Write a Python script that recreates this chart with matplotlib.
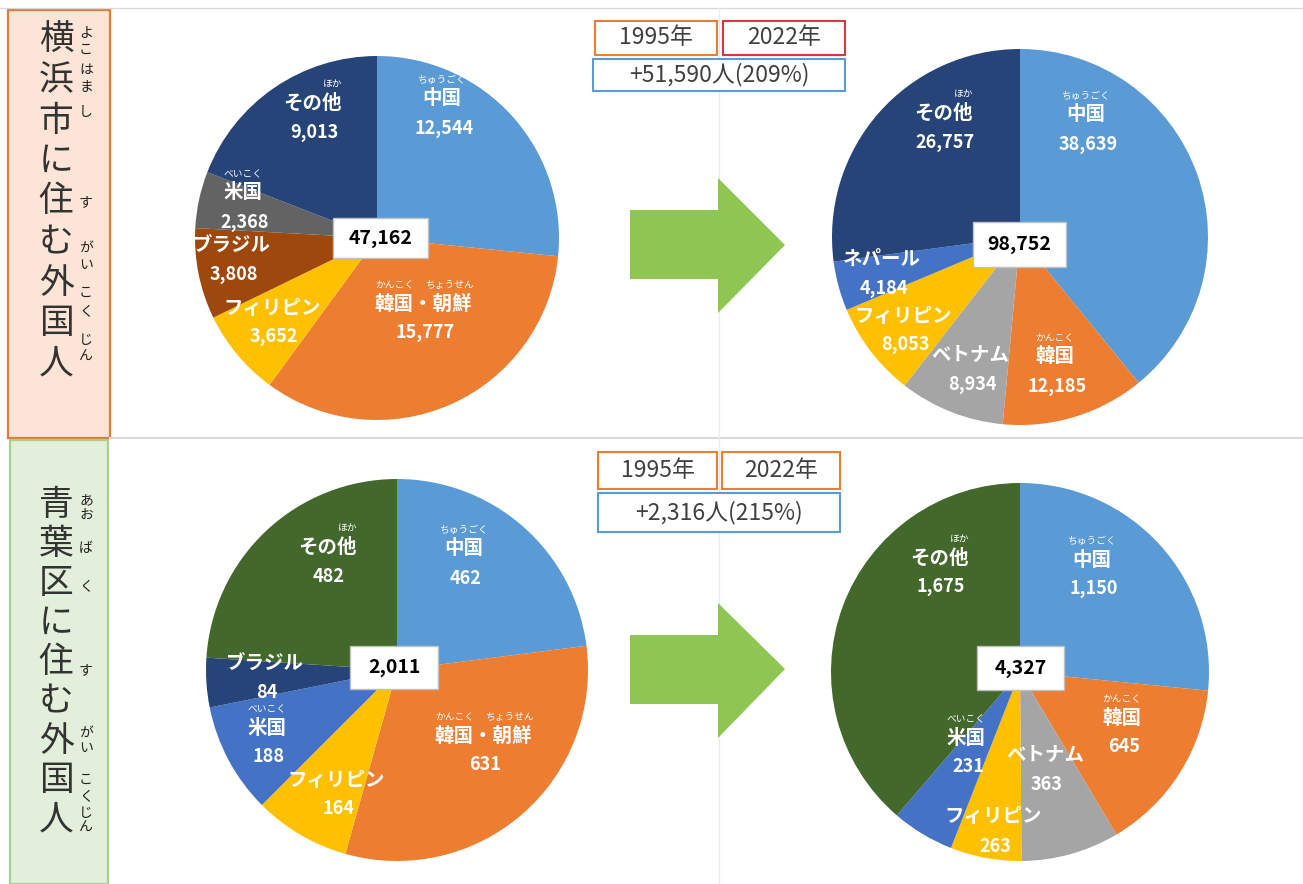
import matplotlib
matplotlib.use('Agg')
import matplotlib.pyplot as plt
from matplotlib.patches import Rectangle, Polygon

plt.rcParams['font.family'] = ['Noto Sans CJK JP', 'DejaVu Sans']

# 横浜市 1995 / 2022
yoko_1995_names = ['中国', '韓国・朝鮮', 'フィリピン', 'ブラジル', '米国', 'その他']
yoko_1995_values = [12544, 15777, 3652, 3808, 2368, 9013]
yoko_2022_names = ['中国', '韓国', 'ベトナム', 'フィリピン', 'ネパール', 'その他']
yoko_2022_values = [38639, 12185, 8934, 8053, 4184, 26757]
# 青葉区 1995 / 2022
aoba_1995_names = ['中国', '韓国・朝鮮', 'フィリピン', '米国', 'ブラジル', 'その他']
aoba_1995_values = [462, 631, 164, 188, 84, 482]
aoba_2022_names = ['中国', '韓国', 'ベトナム', 'フィリピン', '米国', 'その他']
aoba_2022_values = [1150, 645, 363, 263, 231, 1675]

years = ['1995年', '2022年']
titles = ['横浜市に住む外国人', '青葉区に住む外国人']

furigana = {'中国': 'ちゅうごく', '韓国': 'かんこく', '米国': 'べいこく', 'その他': 'ほか'}

# colores por pais (estilo Excel)
col = {'中国': '#5B9BD5', '韓国・朝鮮': '#ED7D31', '韓国': '#ED7D31', 'フィリピン': '#FFC000',
       'ベトナム': '#A5A5A5', 'ネパール': '#4472C4'}
col_yoko = dict(col, **{'ブラジル': '#9E480E', '米国': '#636363', 'その他': '#264478'})
col_aoba = dict(col, **{'ブラジル': '#264478', '米国': '#4472C4', 'その他': '#43682B'})

W, H = 1303, 884
fig = plt.figure(figsize=(W / 100, H / 100), dpi=100)
fig.patch.set_facecolor('white')

# fondo (cuadricula y cajas laterales)
bg = fig.add_axes([0, 0, 1, 1], zorder=0)
bg.set_xlim(0, W)
bg.set_ylim(H, 0)
bg.axis('off')
bg.plot([0, W], [8, 8], color='#D9D9D9', lw=1)
bg.plot([110, W], [438, 438], color='#D9D9D9', lw=1.5)
bg.plot([719, 719], [8, H], color='#EBEBEB', lw=1)
bg.add_patch(Rectangle((8, 10), 102, 428, fc='#FCE4D6', ec='#E07B39', lw=1.6))
bg.add_patch(Rectangle((10, 440), 98, 444, fc='#E2EFDA', ec='#A9D08E', lw=1.6))

# pies: (nombres, valores, colores, cx, cy, r)
pies = [
    (yoko_1995_names, yoko_1995_values, col_yoko, 377, 238, 182),
    (yoko_2022_names, yoko_2022_values, col_yoko, 1020, 237, 188),
    (aoba_1995_names, aoba_1995_values, col_aoba, 397, 670, 191),
    (aoba_2022_names, aoba_2022_values, col_aoba, 1020, 672, 189),
]
for names, vals, cmap, cx, cy, r in pies:
    ax = fig.add_axes([(cx - r) / W, 1 - (cy + r) / H, 2 * r / W, 2 * r / H], zorder=1)
    ax.pie(vals, colors=[cmap[n] for n in names], startangle=90, counterclock=False,
           radius=1, wedgeprops=dict(linewidth=0))
    ax.set_xlim(-1, 1)
    ax.set_ylim(-1, 1)

ov = fig.add_axes([0, 0, 1, 1], zorder=5)
ov.set_xlim(0, W)
ov.set_ylim(H, 0)
ov.axis('off')
ov.patch.set_alpha(0)

# posicion de las etiquetas (centro del nombre, en pixeles)
label_pos = [
    {'中国': (442, 99), '韓国・朝鮮': (423, 304), 'フィリピン': (272, 308), 'ブラジル': (232, 245),
     '米国': (243, 193), 'その他': (312, 103)},
    {'中国': (1086, 115), '韓国': (1055, 357), 'ベトナム': (970, 355), 'フィリピン': (903, 316),
     'ネパール': (882, 259), 'その他': (943, 113)},
    {'中国': (464, 549), '韓国・朝鮮': (483, 736), 'フィリピン': (336, 780), '米国': (267, 728),
     'ブラジル': (265, 663), 'その他': (327, 547)},
    {'中国': (1092, 560), '韓国': (1122, 718), 'ベトナム': (1045, 755), 'フィリピン': (993, 817),
     '米国': (966, 738), 'その他': (939, 558)},
]
total_box = [(333, 218, 95, 40), (973, 222, 93, 45), (350, 646, 88, 43), (977, 646, 87, 44)]

for (names, vals, cmap, cx, cy, r), pos, tb in zip(pies, label_pos, total_box):
    for n, v in zip(names, vals):
        x, y = pos[n]
        ov.text(x, y, n, color='white', fontsize=14, fontweight='bold', ha='center', va='center')
        ov.text(x + 2, y + 29, f'{v:,}', color='white', fontsize=13, fontweight='bold',
                ha='center', va='center')
        if n == '韓国・朝鮮':
            ov.text(x - 28, y - 19, 'かんこく', color='white', fontsize=7, ha='center', va='center')
            ov.text(x + 27, y - 19, 'ちょうせん', color='white', fontsize=7, ha='center', va='center')
        elif n == 'その他':
            ov.text(x + 21, y - 19, furigana[n], color='white', fontsize=7, ha='center', va='center')
        elif n in furigana:
            ov.text(x, y - 19, furigana[n], color='white', fontsize=7, ha='center', va='center')
    bx, by, bw, bh = tb
    ov.add_patch(Rectangle((bx, by), bw, bh, fc='white', ec='#BFBFBF', lw=1))
    ov.text(bx + bw / 2, by + bh / 2, f'{sum(vals):,}', color='black', fontsize=14,
            fontweight='bold', ha='center', va='center')

# cajas de año y diferencia
year_boxes = [
    [(595, 21, 122, 34, '#ED7D31'), (723, 21, 122, 34, '#D9363E'), (593, 59, 252, 32, '#5B9BD5')],
    [(598, 452, 119, 37, '#ED7D31'), (722, 452, 118, 37, '#ED7D31'), (598, 493, 242, 39, '#5B9BD5')],
]
pairs = [(yoko_1995_values, yoko_2022_values), (aoba_1995_values, aoba_2022_values)]
for boxes, (v1, v2) in zip(year_boxes, pairs):
    s1, s2 = sum(v1), sum(v2)
    texts = [years[0], years[1], f'+{s2 - s1:,}人({round(s2 / s1 * 100)}%)']
    for (bx, by, bw, bh, ec), t in zip(boxes, texts):
        ov.add_patch(Rectangle((bx, by), bw, bh, fc='white', ec=ec, lw=1.5))
        ov.text(bx + bw / 2, by + bh / 2, t, color='#404040', fontsize=16.5, ha='center', va='center')

# flechas verdes
for sy0, sy1, hy0, hy1, ty in [(210, 279, 178, 313, 245), (635, 704, 603, 738, 669)]:
    ov.add_patch(Polygon([(630, sy0), (718, sy0), (718, hy0), (785, ty), (718, hy1), (718, sy1), (630, sy1)],
                         closed=True, fc='#8FC553', ec='none'))

# titulos verticales con furigana
kanji_y = [(40, 40.5), (505, 39.4)]
furi_chars = [
    [('よ', 33), ('こ', 50), ('は', 70), ('ま', 86), ('し', 112), ('す', 202),
     ('が', 248), ('い', 265), ('こ', 293), ('く', 312), ('じ', 340), ('ん', 357)],
    [('あ', 500), ('お', 515), ('ば', 548), ('く', 587), ('す', 670),
     ('が', 733), ('い', 748), ('こ', 780), ('く', 797), ('じ', 813), ('ん', 828)],
]
for title, (y0, step), furi in zip(titles, kanji_y, furi_chars):
    for i, ch in enumerate(title):
        ov.text(56, y0 + i * step, ch, color='#333333', fontsize=25, ha='center', va='center')
    for ch, fy in furi:
        ov.text(86, fy, ch, color='#222222', fontsize=10, ha='center', va='center')

fig.savefig('out.png', dpi=100)
